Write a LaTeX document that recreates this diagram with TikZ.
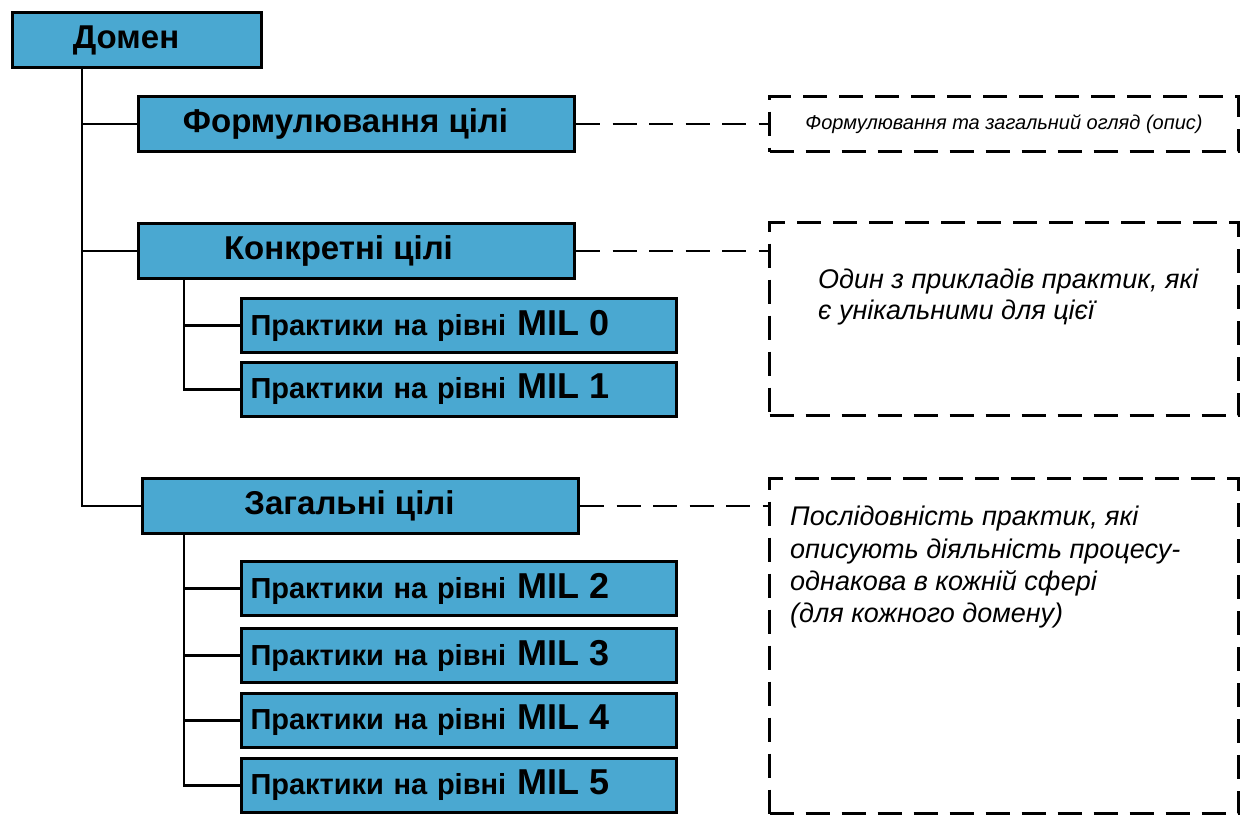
\documentclass[tikz,border=0pt]{standalone}
\usepackage{fontspec}
\setmainfont{Liberation Sans}
\definecolor{boxblue}{RGB}{74,168,209}
\begin{document}
\begin{tikzpicture}[x=1pt,y=-1pt,
  bluebox/.style={draw=black, line width=3pt, fill=boxblue, minimum height=55pt, inner sep=0pt, anchor=north west, font=\fontsize{33}{36}\selectfont\bfseries},
  milbox/.style={draw=black, line width=3pt, fill=boxblue, minimum height=54pt, inner xsep=9pt, inner ysep=0pt, text width=417pt, align=left, anchor=north west, font=\fontsize{29}{32}\selectfont\bfseries},
  dbox/.style={draw=black, line width=3pt, dash pattern=on 24pt off 12pt, inner sep=0pt, anchor=north west},
  dline/.style={draw=black, line width=2.8pt, dash pattern=on 24pt off 12.5pt},
  tree/.style={draw=black, line width=2.8pt},
  note/.style={anchor=north west, inner sep=0pt, align=left, font=\fontsize{27}{31}\selectfont\itshape}
]
\useasboundingbox (0,0) rectangle (1256,831);
\newcommand{\mil}[1]{\raisebox{-2pt}{Практики на рівні\hspace{2pt} {\fontsize{36}{36}\selectfont MIL #1}}}
\newcommand{\hd}[2]{\raisebox{-2pt}{#1}\hspace*{#2pt}}

\node[bluebox, minimum width=249pt] (dom) at (11,11) {\hd{Домен}{22}};
\node[bluebox, minimum width=436pt] (f) at (137,95) {\hd{Формулювання цілі}{22}};
\node[bluebox, minimum width=436pt] (k) at (137,222) {\hd{Конкретні цілі}{36}};
\node[milbox] (m0) at (240,297) {\mil{0}};
\node[milbox] (m1) at (240,361) {\mil{1}};
\node[bluebox, minimum width=436pt] (z) at (141,477) {\hd{Загальні цілі}{22}};
\node[milbox] (m2) at (240,560) {\mil{2}};
\node[milbox] (m3) at (240,627) {\mil{3}};
\node[milbox] (m4) at (240,692) {\mil{4}};
\node[milbox] (m5) at (240,757) {\mil{5}};

\node[dbox, minimum width=469pt, minimum height=55pt, font=\fontsize{20}{22}\selectfont\itshape] (d1) at (768,95) {Формулювання та загальний огляд (опис)};
\node[dbox, minimum width=469pt, minimum height=193pt] (d2) at (768,221) {};
\node[dbox, minimum width=469pt, minimum height=335pt] (d3) at (768,477) {};

\node[note] (t2) at ([xshift=50pt,yshift=-48pt]d2.north west) {Один з прикладів практик, які\\є унікальними для цієї};
\node[note, font=\fontsize{27}{32.3}\selectfont\itshape] (t3) at ([xshift=22pt,yshift=-29pt]d3.north west) {Послідовність практик, які\\описують діяльність процесу-\\однакова в кожній сфері\\(для кожного домену)};

\draw[tree] ([xshift=71pt]dom.south west) |- (z.west);
\draw[tree] ([xshift=71pt]dom.south west) |- (f.west);
\draw[tree] ([xshift=71pt]dom.south west) |- (k.west);
\draw[tree] ([xshift=47pt]k.south west) |- (m1.west);
\draw[tree] ([xshift=47pt]k.south west) |- (m0.west);
\draw[tree] ([xshift=43pt]z.south west) |- (m5.west);
\draw[tree] ([xshift=43pt]z.south west) |- (m2.west);
\draw[tree] ([xshift=43pt]z.south west) |- (m3.west);
\draw[tree] ([xshift=43pt]z.south west) |- (m4.west);

\draw[dline] (f.east) -- (f.east -| d1.west);
\draw[dline] (k.east) -- (k.east -| d2.west);
\draw[dline] (z.east) -- (z.east -| d3.west);
\end{tikzpicture}
\end{document}
